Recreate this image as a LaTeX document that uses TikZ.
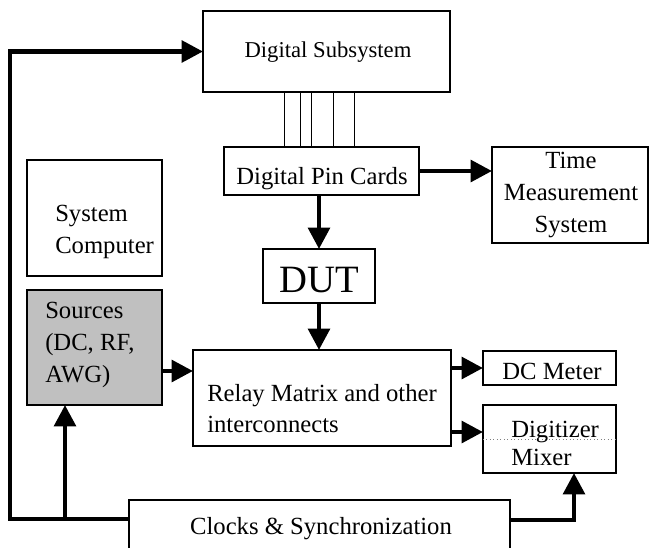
\documentclass[tikz,border=0pt]{standalone}
\usepackage{fontspec}
\setmainfont{Liberation Serif}
\usepackage{tikz}
\usepackage{color}
\usetikzlibrary{arrows.meta}
\definecolor{srcgray}{RGB}{192,192,192}

\tikzset{
  blk/.style={draw, line width=0.9pt, inner sep=0pt, outer sep=0pt},
  txt/.style={inner sep=0pt, font=\fontsize{18.5}{24}\selectfont},
  thk/.style={line width=3.5pt, -{Triangle[length=16pt,width=16pt]}},
  pin/.style={line width=0.6pt}
}

\begin{document}
\begin{tikzpicture}[x=0.75pt,y=0.75pt,yscale=-1,xscale=1]
\clip (0,0) rectangle (650,547); %set diagram size to 650 x 547

%Shape: Rectangle [id:dsub]
\node [blk, line width=1.2pt, minimum width=185.25pt, minimum height=60.75pt] (dsub) at (326.5,51.5) {};
%Shape: Rectangle [id:pins]
\node [blk, minimum width=146.25pt, minimum height=36pt] (pins) at (321.5,171) {};
%Shape: Rectangle [id:time]
\node [blk, minimum width=117pt, minimum height=72pt] (time) at (570,195) {};
%Shape: Rectangle [id:syscomp]
\node [blk, minimum width=101.25pt, minimum height=87pt] (syscomp) at (94.5,218) {};
%Shape: Rectangle [id:src]
\node [blk, fill=srcgray, minimum width=101.25pt, minimum height=86.25pt] (src) at (94.5,347.5) {};
%Shape: Rectangle [id:dut]
\node [blk, minimum width=84pt, minimum height=40.5pt] (dut) at (319,276) {};
%Shape: Rectangle [id:relay]
\node [blk, minimum width=193.5pt, minimum height=72pt] (relay) at (322,398) {};
%Shape: Rectangle [id:dcm]
\node [blk, minimum width=99.75pt, minimum height=25.5pt] (dcm) at (549.5,368) {};
%Shape: Rectangle [id:dig]
\node [blk, minimum width=99.75pt, minimum height=51pt] (dig) at (549.5,439) {};
%Shape: Rectangle [id:clk]
\node [blk, minimum width=285.75pt, minimum height=42pt] (clk) at (319.5,528) {};

%Dotted line inside digitizer box
\draw [gray, dotted, line width=0.6pt] (dig.west) -- (dig.east) ;

%Straight Lines: digital pins
\foreach \x in {284,300,311,333,354}
  \draw [pin] (\x,0 |- dsub.south) -- (\x,0 |- pins.north) ;

%Corner points of the thick lines
\coordinate (loopbl) at (10,519);
\coordinate (jn) at (65,519);
\coordinate (loopbr) at (574,520);
\coordinate (srcout) at (0,371);
\coordinate (digin) at (0,432);

%Straight Lines: clocks to digital subsystem
\draw [thk] (clk.west |- loopbl) -- (loopbl) -- (loopbl |- dsub.west) -- (dsub.west) ;
%Straight Lines: clocks to sources
\draw [thk] (jn) -- (jn |- src.south) ;
%Straight Lines: clocks to digitizer
\draw [thk] (clk.east |- loopbr) -- (loopbr) -- (loopbr |- dig.south) ;
%Straight Lines: sources to relay
\draw [thk] (src.east |- srcout) -- (relay.west |- srcout) ;
%Straight Lines: pins to time
\draw [thk] (pins.east) -- (time.west |- pins.east) ;
%Straight Lines: pins to dut
\draw [thk] (dut.north |- pins.south) -- (dut.north) ;
%Straight Lines: dut to relay
\draw [thk] (dut.south) -- (dut.south |- relay.north) ;
%Straight Lines: relay to dc meter
\draw [thk] (relay.east |- dcm.west) -- (dcm.west) ;
%Straight Lines: relay to digitizer
\draw [thk] (relay.east |- digin) -- (dig.west |- digin) ;

% Text Node
\node [txt, font=\fontsize{17}{22}\selectfont] (dsub-t) at (328,52) {Digital Subsystem};
% Text Node
\node [txt] (pins-t) at (322,179) {Digital Pin Cards};
% Text Node
\node [txt, align=center] (time-t) at (571,195) {Time\\Measurement\\System};
% Text Node
\node [txt, anchor=west, align=left, font=\fontsize{18.5}{23.5}\selectfont] (syscomp-t) at (55,232) {System\\Computer};
% Text Node
\node [txt, anchor=west, align=left] (src-t) at (45,345) {Sources\\(DC, RF,\\AWG)};
% Text Node
\node [txt, font=\fontsize{29}{34}\selectfont] (dut-t) at (319,280) {DUT};
% Text Node
\node [txt, anchor=west, align=left, font=\fontsize{18.5}{23.25}\selectfont] (relay-t) at (207,409) {Relay Matrix and other\\interconnects};
% Text Node
\node [txt] (dcm-t) at (552,371) {DC Meter};
% Text Node
\node [txt, anchor=west, align=left, font=\fontsize{18.5}{21}\selectfont] (dig-t) at (511,443) {Digitizer\\Mixer};
% Text Node
\node [txt] (clk-t) at (321,529) {Clocks \& Synchronization};

\end{tikzpicture}
\end{document}
